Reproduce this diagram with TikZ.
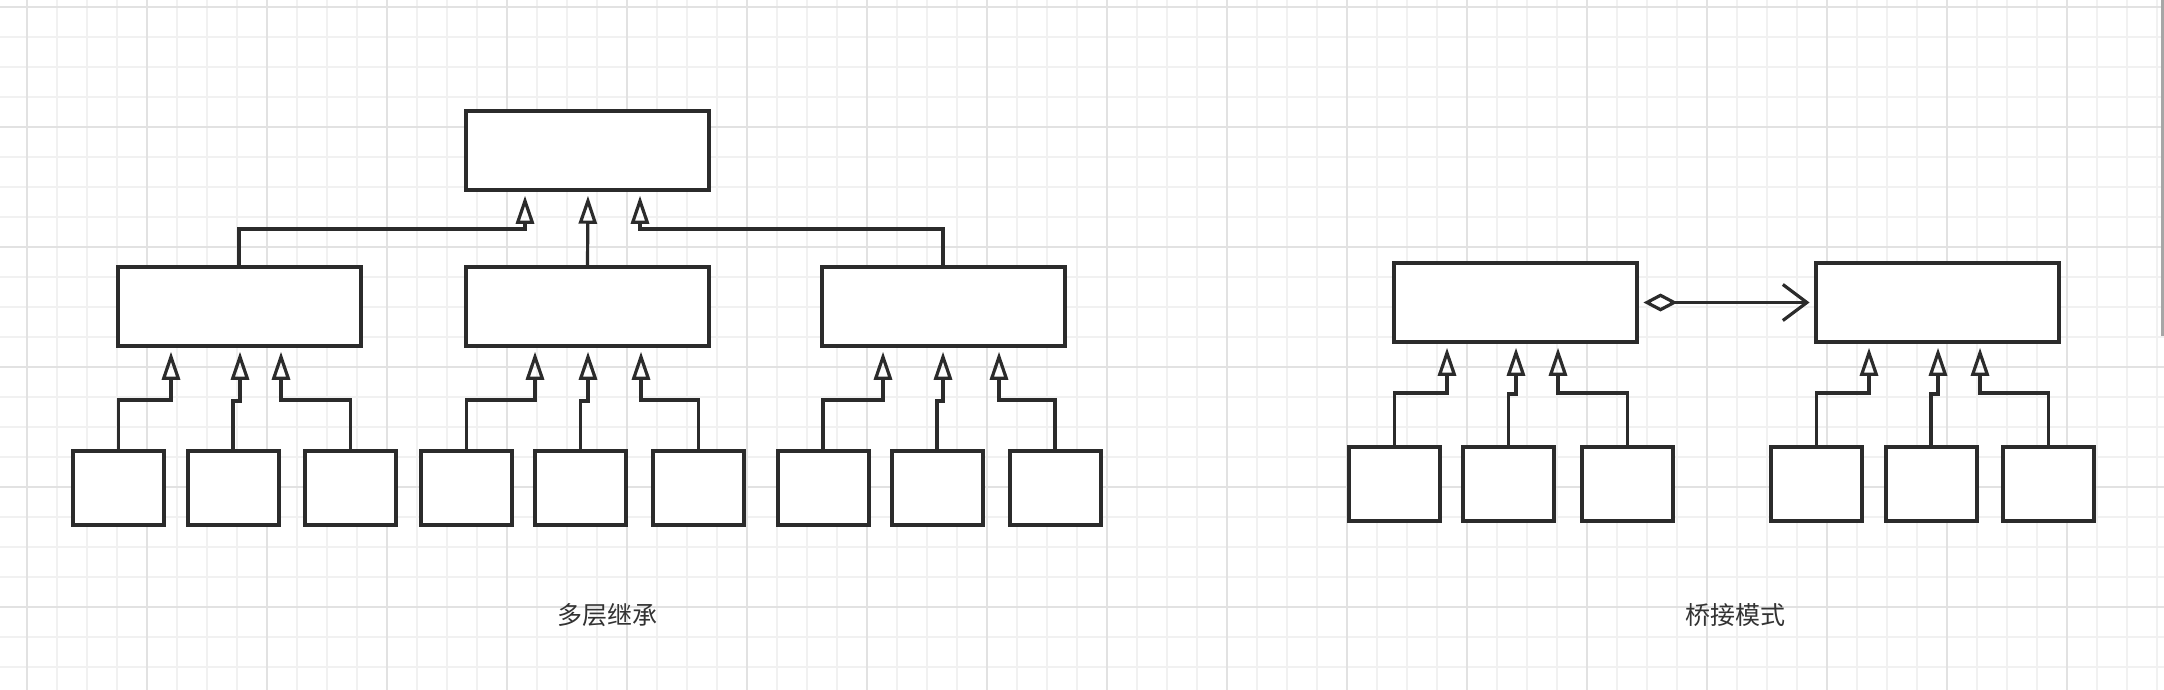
\documentclass[tikz,border=0pt]{standalone}
\usepackage{fontspec}
\newfontfamily\cjk{Noto Sans CJK SC}
\usetikzlibrary{arrows.meta}
\definecolor{ln}{HTML}{2B2B2B}
\definecolor{gminor}{HTML}{F1F1F1}
\definecolor{gmajor}{HTML}{E2E2E2}
\definecolor{txt}{HTML}{333333}
\begin{document}
\begin{tikzpicture}[x=0.5pt,y=-0.5pt,
  bigbox/.style={draw=ln, line width=2pt, fill=white, minimum width=121.5pt, minimum height=39.25pt, inner sep=0pt},
  smallbox/.style={draw=ln, line width=2pt, fill=white, minimum width=45.5pt, minimum height=37pt, inner sep=0pt},
  inh/.style={draw=ln, line width=1.6pt, -{Triangle[open, length=14pt, width=9pt]}, shorten >=2pt},
  agg/.style={draw=ln, line width=1.6pt, {Diamond[open, length=17pt, width=9pt]}-{Straight Barb[length=12pt, width=18pt]}, shorten <=2.5pt, shorten >=2pt},
  minorline/.style={draw=gminor, line width=0.9pt},
  majorline/.style={draw=gmajor, line width=1pt},
  caption/.style={font=\cjk\fontsize{12.5}{15}\selectfont, text=txt, inner sep=0pt}]
\useasboundingbox (0,0) rectangle (2164,690);
\fill[white] (0,0) rectangle (2164,690);
% grid
\foreach \i in {0,...,71} \draw[minorline] ({27+30*\i},0) -- ({27+30*\i},690);
\foreach \i in {0,...,22} \draw[minorline] (0,{7+30*\i}) -- (2164,{7+30*\i});
\foreach \i in {0,...,17} \draw[majorline] ({27+120*\i},0) -- ({27+120*\i},690);
\foreach \i in {0,...,5} \draw[majorline] (0,{7+120*\i}) -- (2164,{7+120*\i});
% scrollbar
\fill[gray!70] (2161,0) rectangle (2164,336);

% ===== left: multi-level inheritance =====
\node[bigbox] (T) at (587.5,150.5) {};
\node[bigbox] (L) at (239,306.5) {};
\node[bigbox] (M) at (587.5,306.5) {};
\node[bigbox] (R) at (943,306.5) {};

\node[smallbox] (a1) at (118.5,488) {};
\node[smallbox] (a2) at (233,488) {};
\node[smallbox] (a3) at (350.5,488) {};
\node[smallbox] (b1) at (466.5,488) {};
\node[smallbox] (b2) at (580.5,488) {};
\node[smallbox] (b3) at (698.5,488) {};
\node[smallbox] (c1) at (823,488) {};
\node[smallbox] (c2) at (937,488) {};
\node[smallbox] (c3) at (1055,488) {};

\draw[inh] (L.north) |- (525,229) -- (525,0 |- T.south);
\draw[inh] (M.north) -- (588,0 |- T.south);
\draw[inh] (R.north) |- (640,229) -- (640,0 |- T.south);

\draw[inh] (a1.north) |- (171,400) -- (171,0 |- L.south);
\draw[inh] (a2.north) |- (240,401) -- (240,0 |- L.south);
\draw[inh] (a3.north) |- (281,400) -- (281,0 |- L.south);

\draw[inh] (b1.north) |- (535,400) -- (535,0 |- M.south);
\draw[inh] (b2.north) |- (588,401) -- (588,0 |- M.south);
\draw[inh] (b3.north) |- (641,400) -- (641,0 |- M.south);

\draw[inh] (c1.north) |- (883,400) -- (883,0 |- R.south);
\draw[inh] (c2.north) |- (943,401) -- (943,0 |- R.south);
\draw[inh] (c3.north) |- (999,400) -- (999,0 |- R.south);

\node[caption] (cap1) at (607,615) {多层继承};

% ===== right: bridge pattern =====
\node[bigbox] (BL) at (1515,302.5) {};
\node[bigbox] (BR) at (1937,302.5) {};
\draw[agg] (BL.east) -- (BR.west);

\node[smallbox] (d1) at (1394.5,484) {};
\node[smallbox] (d2) at (1508.5,484) {};
\node[smallbox] (d3) at (1627.5,484) {};
\node[smallbox] (e1) at (1816.5,484) {};
\node[smallbox] (e2) at (1931,484) {};
\node[smallbox] (e3) at (2048.5,484) {};

\draw[inh] (d1.north) |- (1447,393) -- (1447,0 |- BL.south);
\draw[inh] (d2.north) |- (1516,394) -- (1516,0 |- BL.south);
\draw[inh] (d3.north) |- (1558,393) -- (1558,0 |- BL.south);

\draw[inh] (e1.north) |- (1869,393) -- (1869,0 |- BR.south);
\draw[inh] (e2.north) |- (1938,394) -- (1938,0 |- BR.south);
\draw[inh] (e3.north) |- (1980,393) -- (1980,0 |- BR.south);

\node[caption] (cap2) at (1735,615) {桥接模式};
\end{tikzpicture}
\end{document}
